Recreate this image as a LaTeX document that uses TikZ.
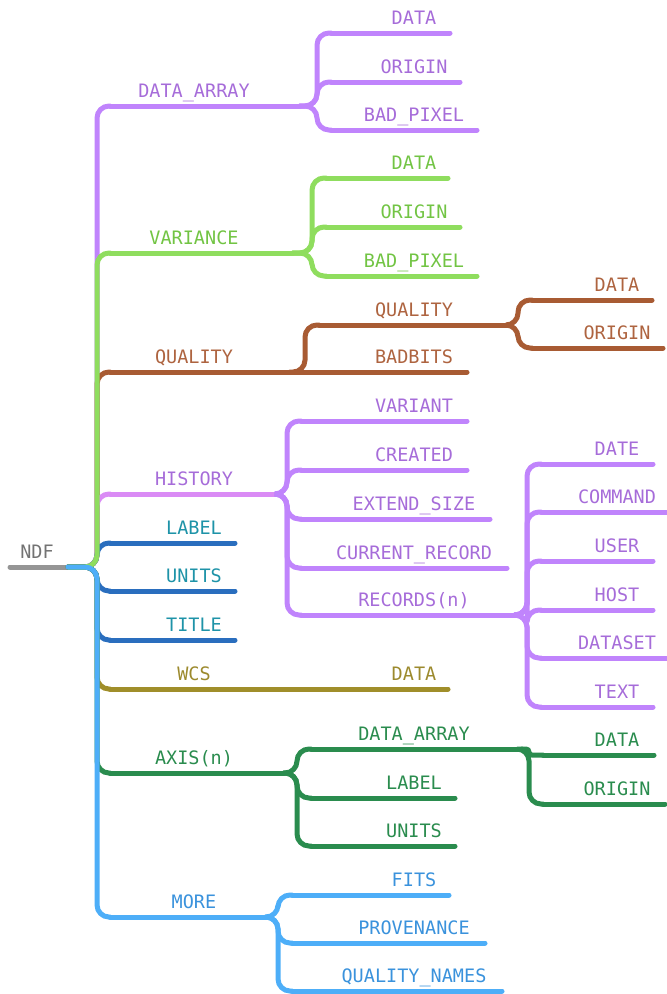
\documentclass[tikz,border=0pt]{standalone}
\usepackage{fontspec}
\setmonofont{DejaVu Sans Mono}

\definecolor{lnGray}{HTML}{959595}   \definecolor{txGray}{HTML}{737373}
\definecolor{lnPurple}{HTML}{C084FC} \definecolor{txPurple}{HTML}{A66CD9}
\definecolor{lnPink}{HTML}{DA8BF5}   \definecolor{txPink}{HTML}{A66CD9}
\definecolor{lnLime}{HTML}{8FDD5E}   \definecolor{txLime}{HTML}{72C444}
\definecolor{lnBrown}{HTML}{A85B33}  \definecolor{txBrown}{HTML}{AE6440}
\definecolor{lnNavy}{HTML}{2A6EBE}   \definecolor{txNavy}{HTML}{1E93A8}
\definecolor{lnOlive}{HTML}{A08E2A}  \definecolor{txOlive}{HTML}{9C8A2E}
\definecolor{lnGreen}{HTML}{2A8C4E}  \definecolor{txGreen}{HTML}{2A8C4E}
\definecolor{lnSky}{HTML}{4DAEF8}    \definecolor{txSky}{HTML}{3A92DC}

% name, line start, line end, y, text centre, colour, text
\newcommand{\topic}[7]{%
    \coordinate (#1-s) at (#2,#4);
    \coordinate (#1-e) at (#3,#4);
    \draw[edge, ln#6] (#1-s) -- (#1-e);
    \node[lbl, text=tx#6] (#1) at (#5,#4-9) {#7};
}

\begin{document}
\begin{tikzpicture}[x=1pt, y=-1pt,
    edge/.style={line width=5pt, line cap=round},
    link/.style={edge, rounded corners=12pt},
    lbl/.style={font=\ttfamily\fontsize{18.5}{20}\selectfont, anchor=base, inner sep=0pt},
]
    \useasboundingbox (0,0) rectangle (667,994);

    % root
    \topic{ndf}{10}{68}{567}{37}{Gray}{NDF}
    \coordinate (ndf-f) at (97,567);

    % first level
    \topic{da}{110}{300}{106}{194}{Purple}{DATA\_ARRAY}
    \topic{var}{110}{293}{253}{194}{Lime}{VARIANCE}
    \topic{qual}{110}{290}{372}{194}{Brown}{QUALITY}
    \topic{hist}{110}{276}{494}{194}{Pink}{HISTORY}
    \topic{lab}{110}{235}{543}{194}{Navy}{LABEL}
    \topic{uni}{110}{235}{591}{194}{Navy}{UNITS}
    \topic{tit}{110}{235}{640}{194}{Navy}{TITLE}
    \topic{wcs}{110}{270}{689}{194}{Olive}{WCS}
    \topic{axis}{110}{284}{773}{194}{Green}{AXIS(n)}
    \topic{more}{110}{266}{917}{194}{Sky}{MORE}
    \coordinate (da-f) at (317,106);
    \coordinate (var-f) at (312,253);
    \coordinate (qual-f) at (305,372);
    \coordinate (hist-f) at (287,494);
    \coordinate (axis-f) at (297,773);
    \coordinate (more-f) at (278,917);

    % second level
    \topic{dada}{331}{450}{33}{414}{Purple}{DATA}
    \topic{daor}{331}{460}{82}{414}{Purple}{ORIGIN}
    \topic{dabp}{331}{477}{130}{414}{Purple}{BAD\_PIXEL}

    \topic{vada}{326}{448}{178}{414}{Lime}{DATA}
    \topic{vaor}{326}{460}{227}{414}{Lime}{ORIGIN}
    \topic{vabp}{326}{477}{276}{414}{Lime}{BAD\_PIXEL}

    \topic{qq}{319}{508}{325}{414}{Brown}{QUALITY}
    \topic{qbb}{319}{467}{372}{414}{Brown}{BADBITS}
    \coordinate (qq-f) at (518,325);

    \topic{hva}{301}{467}{421}{414}{Purple}{VARIANT}
    \topic{hcr}{301}{467}{470}{414}{Purple}{CREATED}
    \topic{hes}{301}{490}{519}{414}{Purple}{EXTEND\_SIZE}
    \topic{hcu}{301}{507}{568}{414}{Purple}{CURRENT\_RECORD}
    \topic{hrec}{301}{515}{615}{414}{Purple}{RECORDS(n)}
    \coordinate (hrec-f) at (527,615);

    \topic{wda}{290}{448}{689}{414}{Olive}{DATA}

    \topic{ada}{311}{522}{749}{414}{Green}{DATA\_ARRAY}
    \topic{alab}{311}{455}{798}{414}{Green}{LABEL}
    \topic{auni}{311}{455}{846}{414}{Green}{UNITS}
    \coordinate (ada-f) at (529,749);

    \topic{mfits}{292}{449}{895}{414}{Sky}{FITS}
    \topic{mprov}{292}{485}{943}{414}{Sky}{PROVENANCE}
    \topic{mqn}{292}{502}{991}{414}{Sky}{QUALITY\_NAMES}

    % third level
    \topic{qqda}{532}{652}{300}{617}{Brown}{DATA}
    \topic{qqor}{532}{663}{348}{617}{Brown}{ORIGIN}

    \topic{rdate}{541}{653}{464}{617}{Purple}{DATE}
    \topic{rcmd}{541}{667}{512}{617}{Purple}{COMMAND}
    \topic{ruser}{541}{653}{561}{617}{Purple}{USER}
    \topic{rhost}{541}{653}{610}{617}{Purple}{HOST}
    \topic{rdset}{541}{667}{658}{617}{Purple}{DATASET}
    \topic{rtext}{541}{653}{707}{617}{Purple}{TEXT}

    \topic{adada}{543}{654}{755}{617}{Green}{DATA}
    \topic{adaor}{543}{665}{804}{617}{Green}{ORIGIN}

    % links from the root
    \draw[link, lnPurple] (ndf-e) -- (ndf-f) |- (da-s);
    \draw[link, lnBrown] (ndf-e) -- (ndf-f) |- (qual-s);
    \draw[link, lnPink] (ndf-e) -- (ndf-f) |- (hist-s);
    \draw[link, lnNavy] (ndf-e) -- (ndf-f) |- (lab-s);
    \draw[link, lnNavy] (ndf-e) -- (ndf-f) |- (uni-s);
    \draw[link, lnNavy] (ndf-e) -- (ndf-f) |- (tit-s);
    \draw[link, lnOlive] (ndf-e) -- (ndf-f) |- (wcs-s);
    \draw[link, lnGreen] (ndf-e) -- (ndf-f) |- (axis-s);
    \draw[link, lnLime] (ndf-e) -- (ndf-f) |- (var-s);
    \draw[link, lnSky] (ndf-e) -- (ndf-f) |- (more-s);

    % links further out
    \draw[link, lnPurple] (da-e) -- (da-f) |- (dada-s);
    \draw[link, lnPurple] (da-e) -- (da-f) |- (daor-s);
    \draw[link, lnPurple] (da-e) -- (da-f) |- (dabp-s);

    \draw[link, lnLime] (var-e) -- (var-f) |- (vada-s);
    \draw[link, lnLime] (var-e) -- (var-f) |- (vaor-s);
    \draw[link, lnLime] (var-e) -- (var-f) |- (vabp-s);

    \draw[link, lnBrown] (qual-e) -- (qual-f) |- (qq-s);
    \draw[edge, lnBrown] (qual-e) -- (qbb-s);
    \draw[link, lnBrown] (qq-e) -- (qq-f) |- (qqda-s);
    \draw[link, lnBrown] (qq-e) -- (qq-f) |- (qqor-s);

    \draw[link, lnPurple] (hist-e) -- (hist-f) |- (hva-s);
    \draw[link, lnPurple] (hist-e) -- (hist-f) |- (hcr-s);
    \draw[link, lnPurple] (hist-e) -- (hist-f) |- (hes-s);
    \draw[link, lnPurple] (hist-e) -- (hist-f) |- (hcu-s);
    \draw[link, lnPurple] (hist-e) -- (hist-f) |- (hrec-s);
    \draw[link, lnPurple] (hrec-e) -- (hrec-f) |- (rdate-s);
    \draw[link, lnPurple] (hrec-e) -- (hrec-f) |- (rcmd-s);
    \draw[link, lnPurple] (hrec-e) -- (hrec-f) |- (ruser-s);
    \draw[link, lnPurple] (hrec-e) -- (hrec-f) |- (rhost-s);
    \draw[link, lnPurple] (hrec-e) -- (hrec-f) |- (rdset-s);
    \draw[link, lnPurple] (hrec-e) -- (hrec-f) |- (rtext-s);

    \draw[edge, lnOlive] (wcs-e) -- (wda-s);

    \draw[link, lnGreen] (axis-e) -- (axis-f) |- (ada-s);
    \draw[link, lnGreen] (axis-e) -- (axis-f) |- (alab-s);
    \draw[link, lnGreen] (axis-e) -- (axis-f) |- (auni-s);
    \draw[link, lnGreen, rounded corners=3pt] (ada-e) -- (ada-f) |- (adada-s);
    \draw[link, lnGreen] (ada-e) -- (ada-f) |- (adaor-s);

    \draw[link, lnSky] (more-e) -- (more-f) |- (mfits-s);
    \draw[link, lnSky] (more-e) -- (more-f) |- (mprov-s);
    \draw[link, lnSky] (more-e) -- (more-f) |- (mqn-s);
\end{tikzpicture}
\end{document}
